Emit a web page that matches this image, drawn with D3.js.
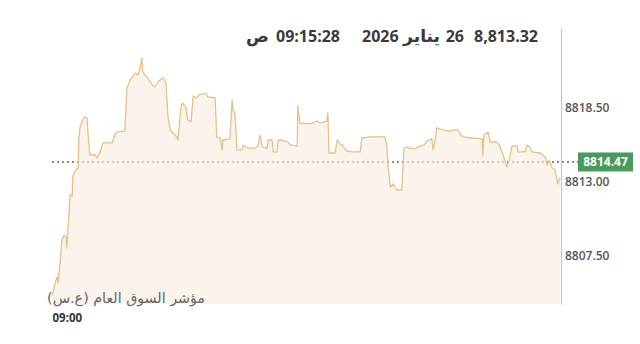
<!DOCTYPE html>
<html><head><meta charset="utf-8">
<script src="https://cdn.jsdelivr.net/npm/d3@7"></script>
<style>
html,body{margin:0;padding:0;background:#fff;}
svg{display:block;font-family:"Noto Sans","Open Sans",sans-serif;}
</style></head>
<body><svg id="c" width="640" height="344"></svg>
<script>
// seconds after 09:00:00
const secs = [0,5,9,11,15,18,22,26,27,29,33,37,38,44,48,49,51,55,60,64,66,69,79,82,88,93,110,115,119,133,137,143,148,153,157,161,164,166,170,175,183,188,194,197,203,208,212,216,221,228,230,236,239,245,248,254,258,263,269,276,281,285,298,301,307,311,312,325,329,331,334,338,347,349,358,371,376,380,384,393,395,402,404,411,413,426,431,435,448,449,453,466,477,484,490,497,502,504,506,517,521,526,530,535,539,550,563,566,581,608,612,614,618,623,630,639,643,649,654,663,672,680,685,694,696,700,703,714,727,736,742,747,751,767,786,787,789,797,800,813,818,824,831,837,840,850,851,864,868,873,877,892,901,904,908,914,919,924,928];
const values = [8804.47,8805.29,8805.89,8805.44,8807.01,8808.65,8809.02,8808.87,8808.05,8809.25,8812.01,8811.93,8813.43,8813.87,8814.02,8816.11,8817.01,8817.53,8817.83,8817.75,8816.48,8814.99,8814.99,8814.77,8815.22,8815.89,8815.89,8816.56,8816.71,8816.78,8819.99,8820.59,8820.89,8821.11,8820.96,8821.48,8822.23,8821.19,8820.96,8820.74,8820.22,8820.07,8820.44,8820.59,8820.74,8820.44,8817.83,8816.86,8816.63,8816.34,8816.11,8818.72,8818.87,8818.50,8817.60,8817.46,8819.40,8819.25,8819.47,8819.54,8819.62,8819.32,8819.25,8816.34,8816.26,8815.37,8816.11,8816.19,8819.10,8818.28,8818.13,8815.37,8815.37,8815.74,8815.51,8815.51,8815.66,8816.48,8815.59,8815.51,8816.11,8816.11,8815.22,8815.22,8816.11,8816.04,8815.96,8815.74,8815.66,8818.65,8817.38,8817.31,8817.38,8817.53,8817.38,8817.46,8817.53,8818.13,8815.14,8815.14,8816.11,8815.81,8815.74,8815.44,8815.29,8815.22,8815.22,8816.26,8816.34,8816.34,8815.59,8814.10,8812.60,8812.83,8812.38,8812.38,8815.51,8815.59,8815.51,8815.44,8815.66,8815.74,8816.04,8816.19,8815.37,8816.11,8817.01,8816.86,8816.78,8816.86,8816.86,8816.48,8816.34,8816.26,8816.19,8814.92,8816.48,8816.71,8815.96,8815.96,8815.66,8814.99,8814.10,8814.92,8815.66,8815.66,8815.22,8815.22,8815.74,8815.59,8815.22,8815.14,8814.84,8814.25,8814.62,8814.02,8813.87,8812.83,8813.32];
const yTicks = [8807.50, 8813.00, 8818.50];
const xTickLabels = ["09:00"];
const refValue = 8814.47;
const headerValue = "8,813.32";
const headerDate = ["2026", "يناير", "26"];
const headerTime = ["ص", "09:15:28"];
const seriesName = "مؤشر السوق العام (ع.س)";

const base = new Date(2026, 0, 26, 9, 0, 0);
const data = secs.map((s, i) => ({t: new Date(base.getTime() + s * 1000), v: values[i]}));

const svg = d3.select("#c");
const x = d3.scaleTime().domain([base, new Date(base.getTime() + 928 * 1000)]).range([52, 560]);
const y = d3.scaleLinear().domain([8803.87, 8824.47]).range([304, 28]);

// reference dotted line (under the area)
svg.append("line")
  .attr("x1", 52).attr("x2", 580)
  .attr("y1", y(refValue)).attr("y2", y(refValue))
  .attr("stroke", "#5a6472").attr("stroke-width", 1.6)
  .attr("stroke-dasharray", "2,3");

const area = d3.area().x(d => x(d.t)).y0(y.range()[0]).y1(d => y(d.v));
svg.append("path").datum(data).attr("d", area)
  .attr("fill", "#f7ede1").attr("fill-opacity", 0.62);

const line = d3.line().x(d => x(d.t)).y(d => y(d.v));
svg.append("path").datum(data).attr("d", line)
  .attr("fill", "none").attr("stroke", "#e8c089").attr("stroke-width", 1.3)
  .attr("stroke-linejoin", "round");

// right axis
const yAxis = d3.axisRight(y).tickValues(yTicks).tickFormat(d3.format(".2f"))
  .tickSize(0).tickSizeOuter(0).tickPadding(4);
const gy = svg.append("g").attr("transform", "translate(561,0)").call(yAxis);
gy.select(".domain").attr("stroke", "#c8c8c8").attr("stroke-width", 1.2);
gy.selectAll("text").attr("fill", "#555").attr("font-size", 12).attr("font-weight", 600)
  .attr("font-family", "'Open Sans','Noto Sans',sans-serif");

// bottom axis
const xAxis = d3.axisBottom(x).tickValues([base]).tickFormat((d, i) => xTickLabels[i])
  .tickSize(0).tickSizeOuter(0).tickPadding(0);
const gx = svg.append("g").attr("transform", "translate(0,312)").call(xAxis);
gx.select(".domain").remove();
gx.selectAll("text").attr("text-anchor", "start").attr("fill", "#333")
  .attr("font-size", 11.5).attr("font-weight", 700).attr("dy", "0.9em")
  .attr("font-family", "'Open Sans','Noto Sans',sans-serif");

// series name
const sn = svg.append("text").attr("x", 205).attr("y", 303)
  .attr("direction", "rtl").attr("text-anchor", "start")
  .attr("fill", "#666").attr("font-size", 13)
  .attr("font-family", "'DejaVu Sans',sans-serif")
  .text(seriesName);
const snW = sn.node().getComputedTextLength();
sn.attr("font-size", 13 * 158 / snW);

// current value badge
svg.append("rect").attr("x", 578).attr("y", y(refValue) - 9.5).attr("width", 55).attr("height", 19)
  .attr("fill", "#4b9a5d");
svg.append("text").attr("x", 605.5).attr("y", y(refValue) + 4.5).attr("text-anchor", "middle")
  .attr("fill", "#fff").attr("font-size", 12).attr("font-weight", 700)
  .attr("font-family", "'Open Sans','Noto Sans',sans-serif")
  .text(refValue.toFixed(2));

// header
const hdr = svg.append("g").attr("fill", "#3a3a3a").attr("font-size", 16).attr("font-weight", 700)
  .attr("font-family", "'Open Sans','Noto Sans',sans-serif");
hdr.append("text").attr("x", 538).attr("y", 42).attr("text-anchor", "end").text(headerValue);
hdr.append("text").attr("x", 464).attr("y", 42).attr("text-anchor", "end").text(headerDate[2]);
const ar = hdr.append("text").attr("x", 440).attr("y", 42).attr("text-anchor", "end")
  .attr("font-family", "'DejaVu Sans',sans-serif").attr("font-size", 15).text(headerDate[1]);
const arW = ar.node().getComputedTextLength();
ar.attr("font-size", 15 * 37 / arW);
hdr.append("text").attr("x", 362).attr("y", 42).attr("text-anchor", "start").text(headerDate[0]);
hdr.append("text").attr("x", 340).attr("y", 42).attr("text-anchor", "end").text(headerTime[1]);
hdr.append("text").attr("x", 246).attr("y", 42).attr("text-anchor", "start")
  .attr("font-family", "'DejaVu Sans',sans-serif").attr("font-size", 17).text(headerTime[0]);
</script></body></html>
